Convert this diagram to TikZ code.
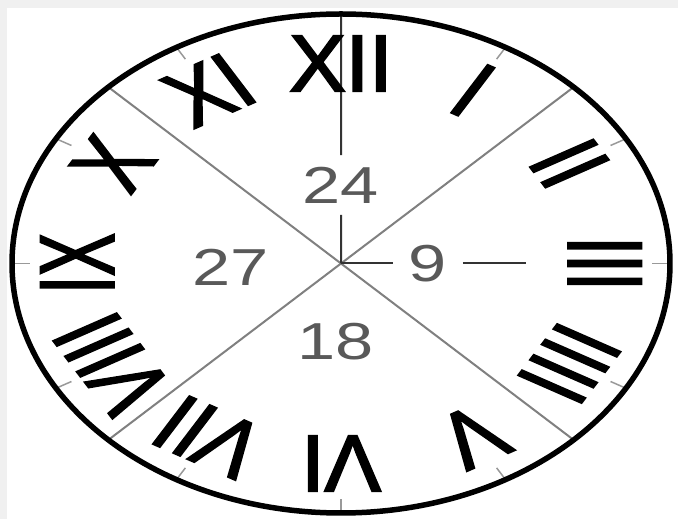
\documentclass[tikz,border=0pt]{standalone}
\usepackage{fontspec}
\setmainfont{Liberation Sans}
\newfontfamily\romanfont[FakeBold=2.5]{Liberation Sans}
\begin{document}
\begin{tikzpicture}[x=1pt,y=1pt,
  numeral/.style={transform shape, font=\romanfont\fontsize{80}{80}\selectfont, inner sep=0pt, xscale=0.8},
  minute/.style={transform shape, font=\fontsize{52}{52}\selectfont, text=black!65, inner sep=0pt},
  rim/.style={line width=5.5pt},
  diag/.style={line width=2pt, draw=black!50},
  axis/.style={line width=2pt, draw=black!80},
  hourtick/.style={line width=1.5pt, draw=black!40}]
\fill[black!6] (0,0) rectangle (678,519);
\fill[white] (7,0) rectangle (678,511);
\useasboundingbox (0,0) rectangle (678,519);
\begin{scope}[shift={(341,255.5)}, xscale=1.3186]
  \coordinate (O) at (0,0);
  \foreach \a in {45,135,225,315} \coordinate (d\a) at (\a:249.5);
  \draw[diag] (d135) -- (d315);
  \draw[diag] (d45) -- (d225);
  \foreach \h in {1,...,12} {
    \coordinate (to\h) at ({90-30*\h}:249.5);
    \coordinate (ti\h) at ({90-30*\h}:236);
    \draw[hourtick] (ti\h) -- (to\h);
  }
  \node[minute, inner xsep=4pt, inner ysep=11.5pt] (l24) at (0,78.5) {24};
  \node[minute, inner xsep=11.7pt, inner ysep=4pt] (l9) at (66,0) {9};
  \node[minute] (l27) at (-84,-3.5) {27};
  \node[minute] (l18) at (-4,-78.5) {18};
  \draw[axis] (O) -- (l24);
  \draw[axis] (l24) -- (to12);
  \coordinate (h3) at (140.3,0);
  \draw[axis] (O) -- (l9);
  \draw[axis] (l9) -- (h3);
  \draw[rim] (O) circle (249.5);
  \foreach \h/\t in {1/I,2/II,3/III,4/IIII,5/V,6/VI,7/VII,8/VIII,9/IX,10/X,11/XI,12/XII}
    \node[rotate={-30*\h}, numeral] (n\h) at ({90-30*\h}:200) {\t};
\end{scope}
\end{tikzpicture}
\end{document}
